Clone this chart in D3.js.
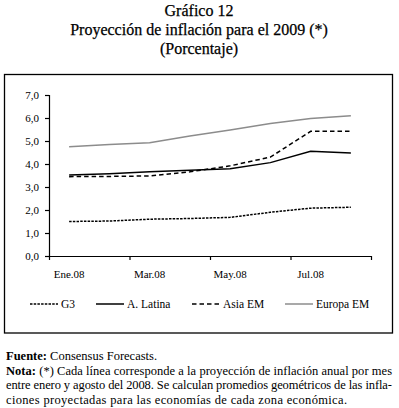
<!DOCTYPE html>
<html>
<head>
<meta charset="utf-8">
<script src="https://cdn.jsdelivr.net/npm/d3@7"></script>
<style>
  body { margin: 0; background: #fff; }
</style>
</head>
<body>
<div id="grafico"></div>
<script>
const width = 399
const height = 408
const fuente = '"Liberation Serif"'

// datos
const meses = ['Ene.08', 'Feb.08', 'Mar.08', 'Abr.08', 'May.08', 'Jun.08', 'Jul.08', 'Ago.08']
const etiquetasX = ['Ene.08', 'Mar.08', 'May.08', 'Jul.08']
const g3 = [1.50, 1.52, 1.60, 1.63, 1.68, 1.90, 2.08, 2.12]
const latina = [3.52, 3.58, 3.66, 3.73, 3.79, 4.06, 4.55, 4.48]
const asia = [3.45, 3.46, 3.48, 3.66, 3.92, 4.30, 5.42, 5.42]
const europa = [4.75, 4.85, 4.92, 5.22, 5.48, 5.76, 5.98, 6.10]
const ticksY = [0, 1, 2, 3, 4, 5, 6, 7]

const series = [
    {nombre: 'G3', valores: g3, color: '#000', dash: '2.5,1.2'},
    {nombre: 'A. Latina', valores: latina, color: '#000', dash: null},
    {nombre: 'Asia EM', valores: asia, color: '#000', dash: '4.5,3'},
    {nombre: 'Europa EM', valores: europa, color: '#8c8c8c', dash: null}
]

const svg = d3.select('#grafico').append('svg')
              .attr('width', width)
              .attr('height', height)
              .attr('font-family', 'Liberation Serif')

// titulo
const titulos = ['Gráfico 12', 'Proyección de inflación para el 2009 (*)', '(Porcentaje)']
svg.selectAll('.titulo')
   .data(titulos)
   .enter()
   .append('text')
   .attr('class', 'titulo')
   .attr('x', 199)
   .attr('y', (d, i) => 16 + i * 19)
   .attr('text-anchor', 'middle')
   .style('font-size', '16px')
   .attr('stroke', '#000')
   .attr('stroke-width', 0.25)
   .text(d => d)

// marco
svg.append('rect')
   .attr('x', 4.5).attr('y', 74.5)
   .attr('width', 388).attr('height', 258.5)
   .attr('fill', 'none')
   .attr('stroke', '#000')
   .attr('stroke-width', 1.3)

const x = d3.scaleBand().domain(meses).range([49, 371])
const xIdx = d3.scaleLinear().domain([0, 8]).range([49, 371])
const y = d3.scaleLinear().domain([0, 7]).range([256, 95])

const ejeY = svg.append('g')
   .attr('transform', 'translate(49,0)')
   .call(d3.axisLeft(y).tickValues(ticksY).tickSizeOuter(0).tickSize(4).tickPadding(6)
          .tickFormat(d => d3.format('.1f')(d).replace('.', ',')))
ejeY.selectAll('text').style('font-size', '11px')

const ejeX = svg.append('g')
   .attr('transform', 'translate(0,256)')
   .call(d3.axisBottom(xIdx).tickValues([0, 2, 4, 6, 8]).tickFormat('').tickSize(4).tickSizeOuter(0))

const etiquetas = svg.append('g')
   .attr('transform', 'translate(0,256)')
   .call(d3.axisBottom(x).tickValues(etiquetasX).tickSize(0).tickPadding(14))
etiquetas.select('.domain').remove()
etiquetas.selectAll('text').style('font-size', '11px')

svg.selectAll('.domain, .tick line').attr('stroke', '#000').attr('stroke-width', 1.2)

const linea = d3.line()
   .x((d, i) => x(meses[i]) + x.bandwidth() / 2)
   .y(d => y(d))

svg.selectAll('.serie')
   .data(series)
   .enter()
   .append('path')
   .attr('class', 'serie')
   .attr('d', d => linea(d.valores))
   .attr('fill', 'none')
   .attr('stroke', d => d.color)
   .attr('stroke-width', 1.5)
   .attr('stroke-dasharray', d => d.dash)

// leyenda
const leyX = [30, 96, 192, 285]
const leyenda = svg.selectAll('.ley')
   .data(series)
   .enter()
   .append('g')
   .attr('transform', (d, i) => `translate(${leyX[i]},304)`)
leyenda.append('line')
   .attr('x1', 0).attr('x2', 28)
   .attr('stroke', d => d.color)
   .attr('stroke-width', 1.5)
   .attr('stroke-dasharray', d => d.dash)
leyenda.append('text')
   .attr('x', 31).attr('y', 4)
   .style('font-size', '11.5px')
   .text(d => d.nombre)

// notas
const notas = [
    {neg: 'Fuente:', resto: ' Consensus Forecasts.', largo: null},
    {neg: 'Nota:', resto: ' (*) Cada línea corresponde a la proyección de inflación anual por mes', largo: 386},
    {neg: '', resto: 'entre enero y agosto del 2008. Se calculan promedios geométricos de las infla-', largo: 386},
    {neg: '', resto: 'ciones proyectadas para las economías de cada zona económica.', largo: 341}
]
const nt = svg.selectAll('.nota')
   .data(notas)
   .enter()
   .append('text')
   .attr('class', 'nota')
   .attr('x', 6)
   .attr('y', (d, i) => 360 + i * 14.5)
   .style('font-size', '12.5px')
   .attr('textLength', d => d.largo)
   .attr('lengthAdjust', 'spacing')
nt.append('tspan').style('font-weight', 'bold').text(d => d.neg)
nt.append('tspan').text(d => d.resto)

svg.selectAll('text').style('font-family', fuente)
</script>
</body>
</html>
